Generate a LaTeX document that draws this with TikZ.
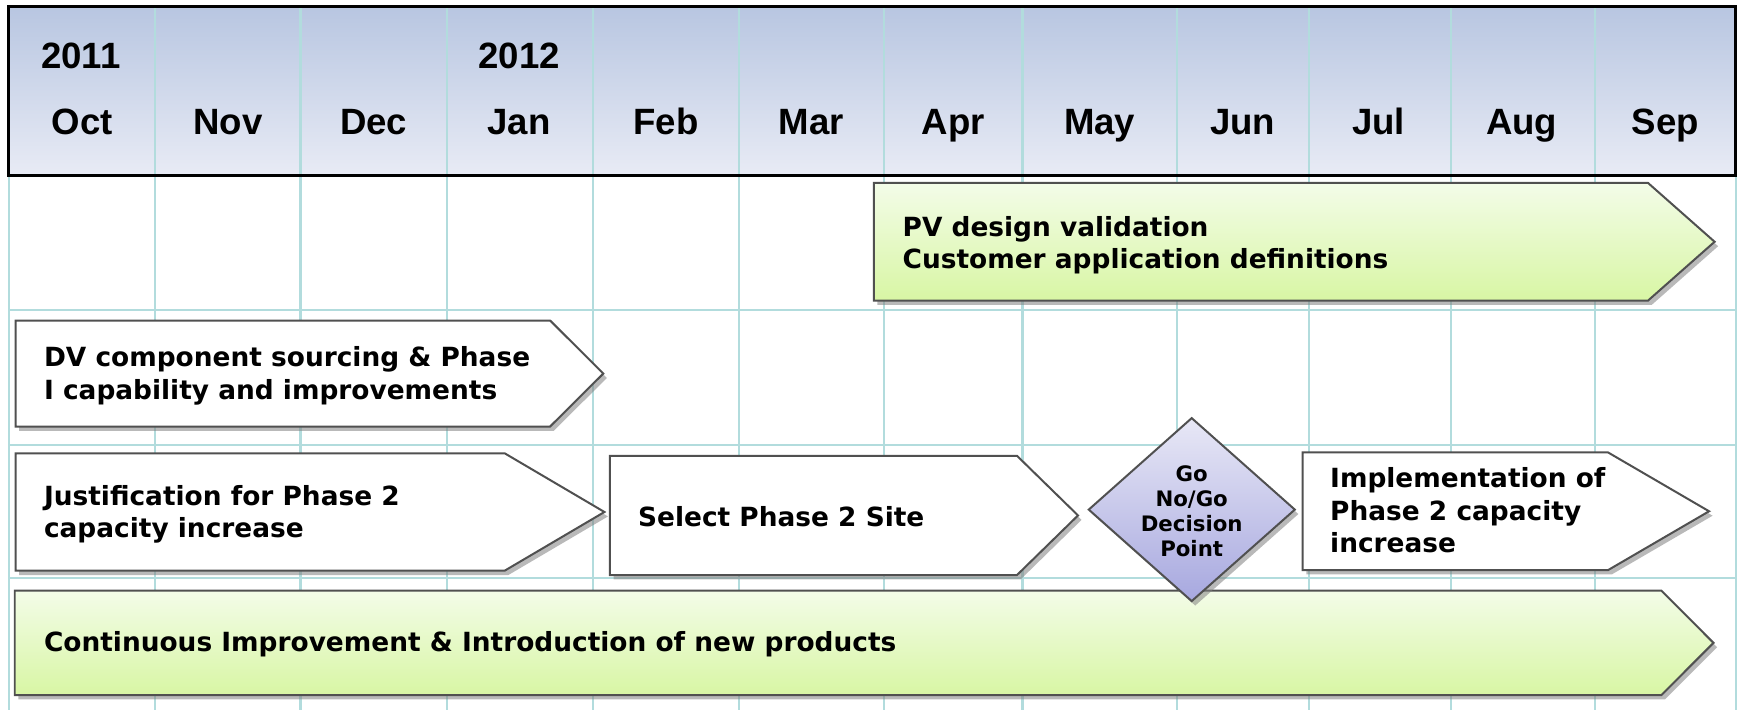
\documentclass[tikz,border=0pt]{standalone}
\usepackage{fontspec}
\setmainfont{DejaVu Sans}
\newfontfamily\hdrfont{Liberation Sans}
\usetikzlibrary{shadows}
\definecolor{gridc}{HTML}{B2DCDD}
\definecolor{hdrtop}{HTML}{B8C6E1}
\definecolor{hdrbot}{HTML}{E8EBF5}
\definecolor{grntop}{HTML}{F3FCE8}
\definecolor{grnbot}{HTML}{D8F6A4}
\definecolor{dmdtop}{HTML}{E8E8F6}
\definecolor{dmdbot}{HTML}{A7A8DF}
\definecolor{edgec}{HTML}{505050}
\tikzset{
  gridline/.style={draw=gridc, line width=1pt},
  shp/.style={draw=edgec, line width=0.9pt, line join=miter,
    drop shadow={shadow xshift=1.6pt, shadow yshift=-2pt, fill=black!50, opacity=0.55}},
  whitebox/.style={shp, fill=white},
  greenbox/.style={shp, top color=grntop, bottom color=grnbot},
  dmdbox/.style={shp, top color=dmdtop, bottom color=dmdbot},
  monthlbl/.style={font=\hdrfont\bfseries\fontsize{16.5}{19}\selectfont, anchor=base, inner sep=0pt},
  tasktext/.style={font=\bfseries\fontsize{11.9}{14.5}\selectfont, align=left, anchor=base west, inner sep=0pt},
  dmdtext/.style={font=\bfseries\fontsize{9.6}{11.4}\selectfont, align=center, inner sep=0pt},
}
% #1 style, #2 left x, #3 top y, #4 bottom y, #5 shoulder x, #6 tip x
\newcommand\taskarrow[6]{%
  \path[#1] (#2,#3) -- (#5,#3) -- (#6,{(#3+#4)/2}) -- (#5,#4) -- (#2,#4) -- cycle;}
\begin{document}
\begin{tikzpicture}[x=0.5pt,y=-0.5pt]
\useasboundingbox (0,0) rectangle (1568,640);
% header background
\path[top color=hdrtop, bottom color=hdrbot] (8,6) rectangle (1565,158);
% grid
\foreach \gx in {8,140,271,403,535,666,797,922,1061,1180,1308,1438,1565}
  \draw[gridline] (\gx,6) -- (\gx,640);
\foreach \gy in {279.5,401,521}
  \draw[gridline] (8,\gy) -- (1565,\gy);
% header border
\draw[black, line width=1.4pt] (8,6) rectangle (1565,158);
% header labels
\node[monthlbl] (y2011) at (73,61.6) {2011};
\node[monthlbl] (y2012) at (468,61.6) {2012};
\foreach \mx/\mn/\nm in {74/Oct/moct,205.5/Nov/mnov,337/Dec/mdec,468/Jan/mjan,600.5/Feb/mfeb,731.5/Mar/mmar,859.5/Apr/mapr,991.5/May/mmay,1120.5/Jun/mjun,1243/Jul/mjul,1372/Aug/maug,1501.5/Sep/msep}
  \node[monthlbl] (\nm) at (\mx,121.7) {\mn};
% task arrows (multi-line texts are placed by the baseline of their last line)
\taskarrow{greenbox}{788}{165}{271}{1486}{1546}
\node[tasktext] (pv) at (813.5,242) {PV design validation\\Customer application definitions};
\taskarrow{whitebox}{14}{289}{384.6}{496}{544}
\node[tasktext] (dv) at (39.3,359.8) {DV component sourcing \& Phase\\I capability and improvements};
\taskarrow{whitebox}{14}{408.7}{514.6}{455}{545}
\node[tasktext] (just) at (39.3,484.5) {Justification for Phase 2\\capacity increase};
\taskarrow{whitebox}{550}{411}{518.5}{917}{972}
\node[tasktext] (site) at (575,475) {Select Phase 2 Site};
\taskarrow{whitebox}{1174.6}{408}{514}{1450}{1541}
\node[tasktext] (impl) at (1199,498) {Implementation of\\Phase 2 capacity\\increase};
\taskarrow{greenbox}{13.3}{532.6}{626.7}{1498}{1545}
\node[tasktext] (ci) at (39.3,587.6) {Continuous Improvement \& Introduction of new products};
% decision diamond
\path[dmdbox] (1074.5,377) -- (1167.5,459.5) -- (1074.5,542) -- (981.7,459.5) -- cycle;
\node[dmdtext] (gonogo) at (1074.5,461) {Go\\No/Go\\Decision\\Point};
\end{tikzpicture}
\end{document}
